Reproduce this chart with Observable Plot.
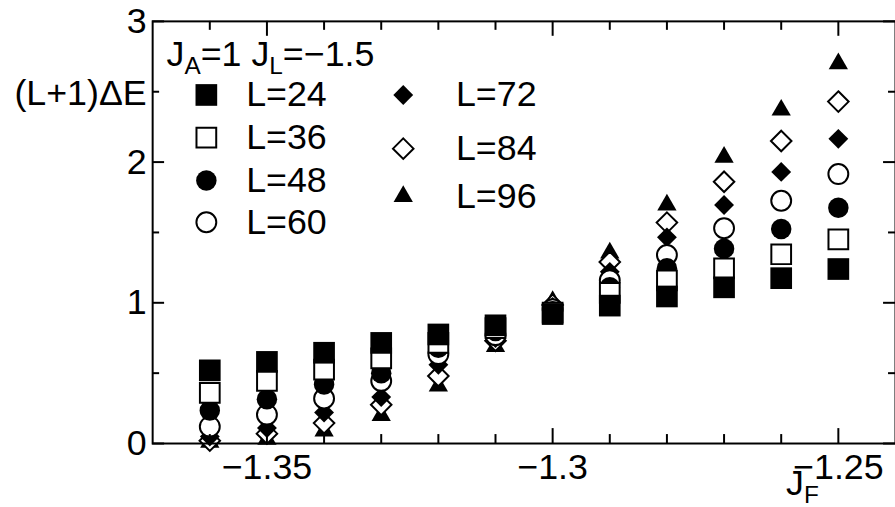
<!DOCTYPE html>
<html><head><meta charset="utf-8">
<script src="https://cdn.jsdelivr.net/npm/d3@7"></script>
<script src="https://cdn.jsdelivr.net/npm/@observablehq/plot@0.6"></script>
<style>
html,body{margin:0;padding:0;background:#fff;overflow:hidden;}
#chart{width:895px;height:507px;overflow:hidden;}
</style></head><body><div id="chart"></div>
<script>
// ---- data ----
const jF  = [-1.36,-1.35,-1.34,-1.33,-1.32,-1.31,-1.30,-1.29,-1.28,-1.27,-1.26,-1.25];
const L24 = [0.52, 0.58, 0.645,0.715,0.775,0.84, 0.92, 0.98, 1.045,1.11, 1.175,1.24];
const L36 = [0.36, 0.445,0.525,0.605,0.715,0.82, 0.93, 1.07, 1.16, 1.245,1.345,1.45];
const L48 = [0.235,0.315,0.42, 0.50, 0.68, 0.80, 0.94, 1.11, 1.245,1.385,1.525,1.675];
const L60 = [0.12, 0.205,0.32, 0.445,0.635,0.77, 0.955,1.16, 1.34, 1.53, 1.725,1.915];
const L72 = [0.05, 0.11, 0.22, 0.33, 0.56, 0.75, 0.97, 1.22, 1.465,1.695,1.93, 2.165];
const L84 = [0.02, 0.07, 0.145,0.275,0.48, 0.73, 0.985,1.29, 1.57, 1.86, 2.15, 2.43];
const L96 = [0.01, 0.03, 0.09, 0.20, 0.41, 0.69, 1.01, 1.355,1.695,2.035,2.37, 2.70];
const seriesNames = ["L=24","L=36","L=48","L=60","L=72","L=84","L=96"];
const seriesValues = [L24, L36, L48, L60, L72, L84, L96];
const xMajorTicks = [-1.35, -1.3, -1.25];
const xMinorTicks = [-1.36,-1.34,-1.33,-1.32,-1.31,-1.29,-1.28,-1.27,-1.26];
const yMajorTicks = [0, 1, 2, 3];
const yMinorTicks = [0.5, 1.5, 2.5];
const titleText = "J_{A}=1 J_{L}=\u22121.5";
const yLabel = "(L+1)\u0394E";
const xLabel = "J_{F}";

// ---- styles ----
const styles = [
  {symbol: "square",   r: 12.3, fill: "black", stroke: "none",  sw: 0},
  {symbol: "square",   r: 11.2, fill: "white", stroke: "black", sw: 2},
  {symbol: "circle",   r: 10.3, fill: "black", stroke: "none",  sw: 0},
  {symbol: "circle",   r: 10.0, fill: "white", stroke: "black", sw: 2},
  {symbol: "diamond2", r: 9.0,  fill: "black", stroke: "none",  sw: 0},
  {symbol: "diamond2", r: 9.3,  fill: "white", stroke: "black", sw: 2},
  {symbol: "triangle", r: 7.2,  fill: "black", stroke: "none",  sw: 0}
];
const legendPos = [
  {sx: 54, tx: 94, y: 74}, {sx: 54, tx: 94, y: 117}, {sx: 54, tx: 94, y: 160}, {sx: 54, tx: 94, y: 202},
  {sx: 252, tx: 305, y: 74}, {sx: 252, tx: 305, y: 128}, {sx: 252, tx: 305, y: 176}
];

const W = 900, H = 507, mL = 153, mR = 0, mT = 21, mB = 61.5;
const frameW = W - mL - mR, frameH = H - mT - mB;
const fmt = d => String(d).replace("-", "\u2212");
const FS = 36;

const marks = [];
// data, drawn L=96 first so L=24 ends on top
for (let i = seriesNames.length - 1; i >= 0; --i) {
  const s = styles[i];
  const data = jF.map((x, j) => ({x, y: seriesValues[i][j]}));
  marks.push(Plot.dot(data, {x: "x", y: "y", symbol: s.symbol, r: s.r, fill: s.fill, stroke: s.stroke, strokeWidth: s.sw}));
}
// legend
seriesNames.forEach((name, i) => {
  const s = styles[i], p = legendPos[i];
  marks.push(Plot.dot([name], {frameAnchor: "top-left", dx: p.sx, dy: p.y, symbol: s.symbol, r: s.r, fill: s.fill, stroke: s.stroke, strokeWidth: s.sw}));
  marks.push(Plot.text([name], {text: d => d, frameAnchor: "top-left", dx: p.tx, dy: p.y, textAnchor: "start", lineAnchor: "middle"}));
});
// frame and ticks (inward)
marks.push(Plot.frame({strokeWidth: 2}));
marks.push(Plot.ruleX(xMinorTicks, {x: d => d, insetTop: frameH - 9, strokeWidth: 2}));
marks.push(Plot.ruleX(xMinorTicks, {x: d => d, insetBottom: frameH - 9, strokeWidth: 2}));
marks.push(Plot.ruleX(xMajorTicks, {x: d => d, insetTop: frameH - 15, strokeWidth: 2}));
marks.push(Plot.ruleX(xMajorTicks, {x: d => d, insetBottom: frameH - 15, strokeWidth: 2}));
marks.push(Plot.ruleY(yMajorTicks, {y: d => d, insetRight: frameW - 12, strokeWidth: 2}));
marks.push(Plot.ruleY(yMajorTicks, {y: d => d, insetLeft: frameW - 12, strokeWidth: 2}));
marks.push(Plot.ruleY(yMinorTicks, {y: d => d, insetRight: frameW - 7, strokeWidth: 2}));
marks.push(Plot.ruleY(yMinorTicks, {y: d => d, insetLeft: frameW - 7, strokeWidth: 2}));
// tick labels
marks.push(Plot.axisX({ticks: xMajorTicks, tickSize: 0, tickPadding: 10, tickFormat: fmt, label: null}));
marks.push(Plot.axisY({ticks: yMajorTicks, tickSize: 0, tickPadding: 6, tickFormat: fmt, label: null}));
// annotations
marks.push(Plot.text([titleText], {text: d => d, frameAnchor: "top-left", dx: 14, dy: 45, textAnchor: "start", lineAnchor: "bottom"}));
marks.push(Plot.text([yLabel], {text: d => d, frameAnchor: "top-left", dx: -6, dy: 84, textAnchor: "end", lineAnchor: "bottom"}));
marks.push(Plot.text([xLabel], {text: d => d, frameAnchor: "bottom-right", dx: -110, dy: 52, textAnchor: "start", lineAnchor: "bottom"}));

const svg = Plot.plot({
  width: W, height: H,
  marginLeft: mL, marginRight: mR, marginTop: mT, marginBottom: mB,
  x: {domain: [-1.37, -1.24], axis: null},
  y: {domain: [0, 3], axis: null},
  style: {fontSize: FS + "px", fontFamily: "'Liberation Sans', Arial, Helvetica, sans-serif", color: "black", background: "white", overflow: "hidden"},
  marks
});

// subscripts
d3.select(svg).selectAll("text").each(function() {
  const t = this.textContent;
  if (!t.includes("_{")) return;
  const parts = t.split(/(_\{[^}]*\})/).filter(p => p);
  const sel = d3.select(this);
  sel.text(null);
  let shifted = false;
  const shift = 8;
  parts.forEach(p => {
    if (p.startsWith("_{")) {
      sel.append("tspan").attr("dy", shifted ? 0 : shift).attr("font-size", FS * 0.68).text(p.slice(2, -1));
      shifted = true;
    } else {
      sel.append("tspan").attr("dy", shifted ? -shift : 0).text(p);
      shifted = false;
    }
  });
});

document.getElementById("chart").appendChild(svg);
</script>
</body></html>
